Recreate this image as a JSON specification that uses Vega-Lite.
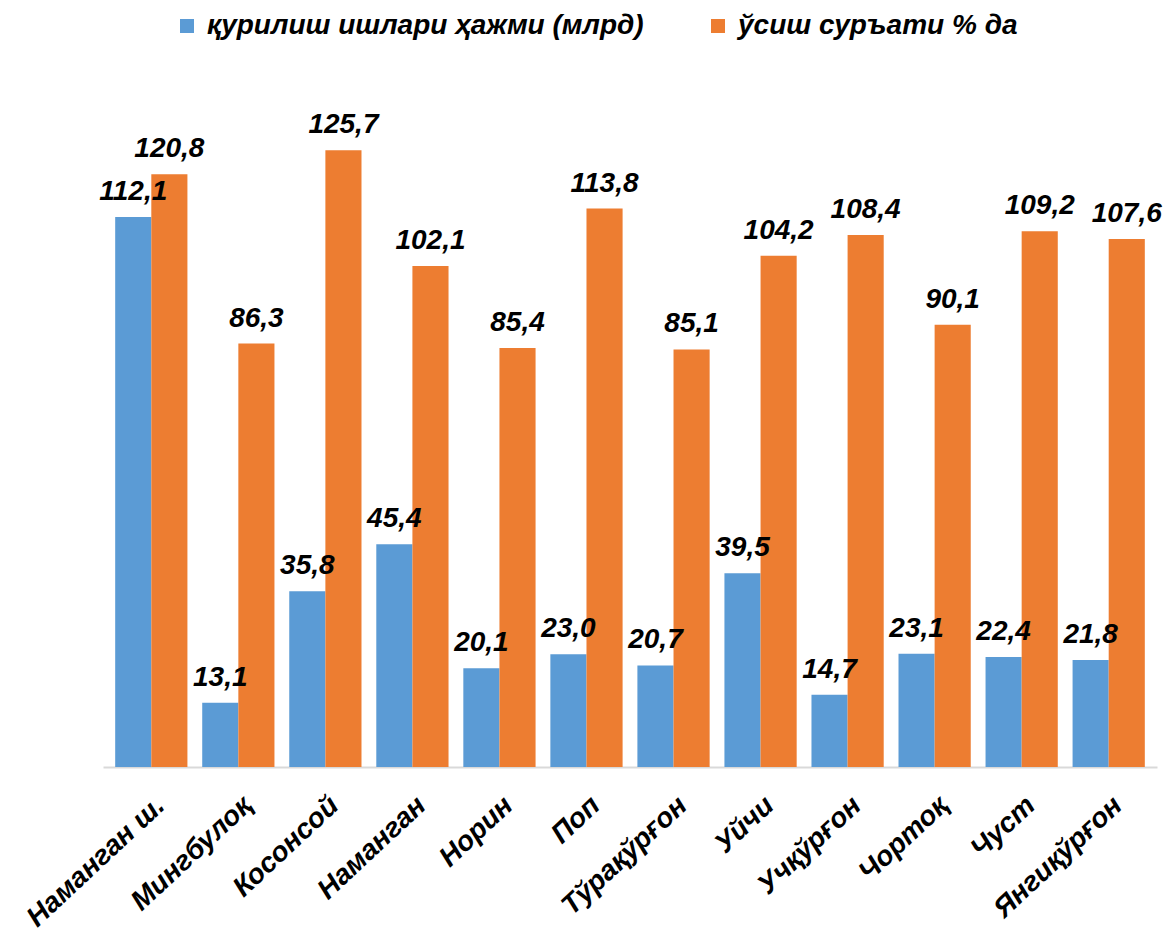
{
  "$schema": "https://vega.github.io/schema/vega-lite/v6.json",
  "width": 1054,
  "height": 687,
  "autosize": {"type": "none"},
  "padding": {"left": 103, "top": 80, "right": 7, "bottom": 164},
  "background": "white",
  "config": {
    "view": {"stroke": null},
    "locale": {"number": {"decimal": ",", "thousands": " ", "grouping": [3], "currency": ["", ""]}},
    "font": "Liberation Sans"
  },
  "data": {
    "values": [
      {"region": "Наманган ш.", "series": "қурилиш ишлари ҳажми (млрд)", "value": 112.1},
      {"region": "Наманган ш.", "series": "ўсиш суръати % да", "value": 120.8},
      {"region": "Мингбулоқ", "series": "қурилиш ишлари ҳажми (млрд)", "value": 13.1},
      {"region": "Мингбулоқ", "series": "ўсиш суръати % да", "value": 86.3},
      {"region": "Косонсой", "series": "қурилиш ишлари ҳажми (млрд)", "value": 35.8},
      {"region": "Косонсой", "series": "ўсиш суръати % да", "value": 125.7},
      {"region": "Наманган", "series": "қурилиш ишлари ҳажми (млрд)", "value": 45.4},
      {"region": "Наманган", "series": "ўсиш суръати % да", "value": 102.1},
      {"region": "Норин", "series": "қурилиш ишлари ҳажми (млрд)", "value": 20.1},
      {"region": "Норин", "series": "ўсиш суръати % да", "value": 85.4},
      {"region": "Поп", "series": "қурилиш ишлари ҳажми (млрд)", "value": 23.0},
      {"region": "Поп", "series": "ўсиш суръати % да", "value": 113.8},
      {"region": "Тўрақўрғон", "series": "қурилиш ишлари ҳажми (млрд)", "value": 20.7},
      {"region": "Тўрақўрғон", "series": "ўсиш суръати % да", "value": 85.1},
      {"region": "Уйчи", "series": "қурилиш ишлари ҳажми (млрд)", "value": 39.5},
      {"region": "Уйчи", "series": "ўсиш суръати % да", "value": 104.2},
      {"region": "Учқўрғон", "series": "қурилиш ишлари ҳажми (млрд)", "value": 14.7},
      {"region": "Учқўрғон", "series": "ўсиш суръати % да", "value": 108.4},
      {"region": "Чортоқ", "series": "қурилиш ишлари ҳажми (млрд)", "value": 23.1},
      {"region": "Чортоқ", "series": "ўсиш суръати % да", "value": 90.1},
      {"region": "Чуст", "series": "қурилиш ишлари ҳажми (млрд)", "value": 22.4},
      {"region": "Чуст", "series": "ўсиш суръати % да", "value": 109.2},
      {"region": "Янгиқўрғон", "series": "қурилиш ишлари ҳажми (млрд)", "value": 21.8},
      {"region": "Янгиқўрғон", "series": "ўсиш суръати % да", "value": 107.6}
    ]
  },
  "encoding": {
    "x": {
      "field": "region",
      "type": "nominal",
      "sort": null,
      "scale": {"paddingInner": 0.17, "paddingOuter": 0.14},
      "axis": {
        "title": null,
        "labelAngle": -43,
        "labelFont": "Liberation Sans",
        "labelFontSize": 28,
        "labelFontWeight": "bold",
        "labelFontStyle": "italic",
        "labelColor": "black",
        "labelPadding": 24,
        "ticks": false,
        "domainColor": "#D9D9D9",
        "domainWidth": 2,
        "labelOverlap": false
      }
    },
    "xOffset": {"field": "series", "type": "nominal", "sort": null, "scale": {"paddingInner": 0, "paddingOuter": 0}},
    "y": {
      "field": "value",
      "type": "quantitative",
      "scale": {"domain": [0, 140], "nice": false},
      "axis": null
    }
  },
  "layer": [
    {
      "mark": {"type": "bar"},
      "encoding": {
        "color": {
          "field": "series",
          "type": "nominal",
          "sort": null,
          "scale": {"domain": ["қурилиш ишлари ҳажми (млрд)", "ўсиш суръати % да"], "range": ["#5B9BD5", "#ED7D31"]},
          "legend": {
            "title": null,
            "orient": "none",
            "direction": "horizontal",
            "legendX": 70,
            "legendY": -68,
            "symbolType": "square",
            "symbolSize": 196,
            "symbolStrokeWidth": 0,
            "labelFont": "Liberation Sans",
            "labelFontSize": 28,
            "labelFontWeight": "bold",
            "labelFontStyle": "italic",
            "labelColor": "black",
            "labelLimit": 700,
            "labelOffset": 6,
            "columnPadding": 60
          }
        }
      }
    },
    {
      "mark": {
        "type": "text",
        "baseline": "alphabetic",
        "dy": -17,
        "font": "Liberation Sans",
        "fontSize": 28,
        "fontWeight": "bold",
        "fontStyle": "italic",
        "color": "black"
      },
      "encoding": {
        "text": {"field": "value", "type": "quantitative", "format": ".1f"}
      }
    }
  ]
}
